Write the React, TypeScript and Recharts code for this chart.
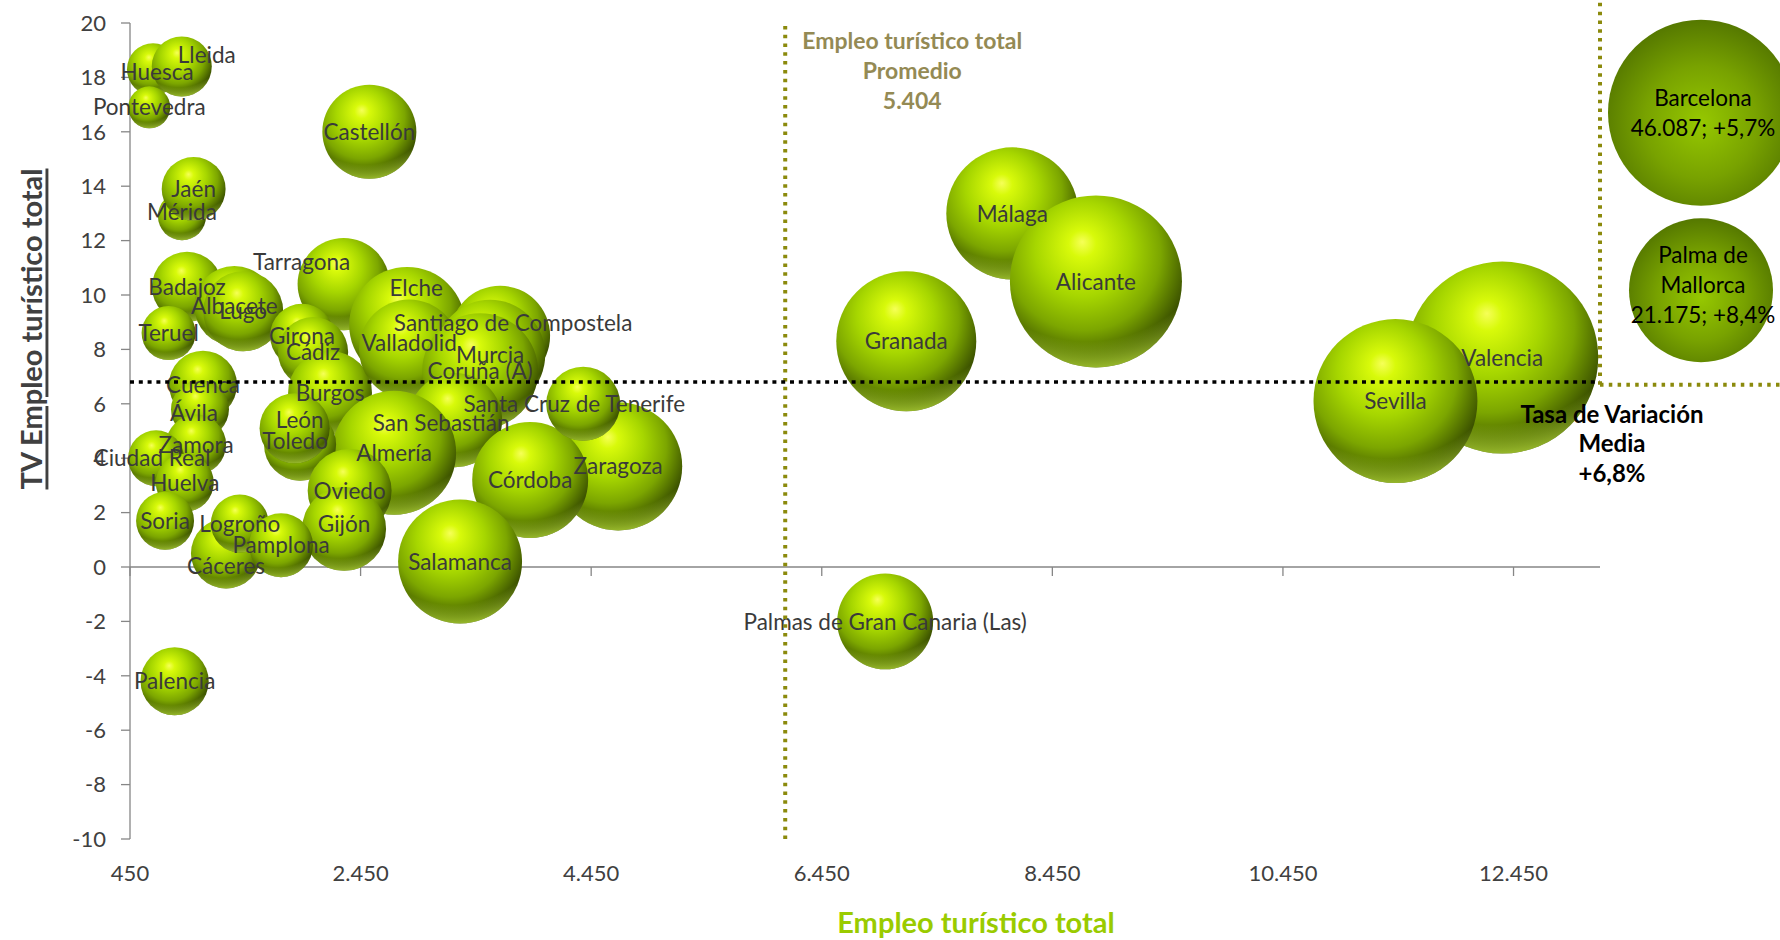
import { ScatterChart, Scatter, XAxis, YAxis, ZAxis, ReferenceLine, ReferenceDot, Label } from "recharts"

const FUENTE = "Lato, 'Open Sans', sans-serif"

// provincias dentro de escala (orden = orden de dibujo)
const ciudades = [
  "Huesca", "Lleida", "Pontevedra", "Castellón", "Mérida", "Jaén", "Badajoz", "Albacete", "Lugo", "Teruel",
  "Tarragona", "Elche", "Girona", "Cádiz", "Burgos", "Valladolid", "Santiago de Compostela", "Murcia", "Coruña (A)",
  "San Sebastián", "Almería", "Cuenca", "Ávila", "Zaragoza", "Córdoba", "Santa Cruz de Tenerife", "Toledo", "León",
  "Zamora", "Ciudad Real", "Huelva", "Oviedo", "Gijón", "Soria", "Cáceres", "Logroño", "Pamplona", "Salamanca",
  "Palencia", "Palmas de Gran Canaria (Las)", "Granada", "Málaga", "Alicante", "Valencia", "Sevilla",
]
const empleoTuristico = [
  650, 899, 617, 2526, 901, 1002, 945, 1355, 1432, 785,
  2303, 2854, 1942, 2038, 2185, 2871, 3660, 3574, 3487,
  3270, 2741, 1083, 1057, 4684, 3921, 4381, 1925, 1878,
  1023, 676, 925, 2355, 2307, 754, 1283, 1402, 1760, 3313,
  837, 7000, 7183, 8103, 8828, 12352, 11426,
]
const tasaVariacion = [
  18.3, 18.4, 16.9, 16.0, 12.9, 13.9, 10.3, 9.6, 9.4, 8.6,
  10.4, 8.9, 8.5, 7.9, 6.4, 8.0, 8.5, 7.8, 7.2,
  5.4, 4.2, 6.7, 5.8, 3.7, 3.2, 6.0, 4.5, 5.1,
  4.5, 4.0, 3.1, 2.8, 1.4, 1.7, 0.5, 1.6, 0.8, 0.2,
  -4.2, -2.0, 8.3, 13.0, 10.5, 7.7, 6.1,
]
const tamanoBurbuja = [
  6.8, 9.0, 4.4, 22.1, 5.8, 10.2, 12.3, 16.0, 16.0, 7.3,
  21.2, 33.6, 10.2, 12.3, 17.6, 25.0, 25.0, 30.3, 33.6,
  22.1, 38.4, 11.6, 8.4, 41.0, 33.6, 13.7, 13.0, 12.3,
  9.0, 7.8, 8.4, 17.6, 17.6, 8.4, 12.3, 8.4, 10.2, 38.4,
  11.6, 23.0, 49.0, 43.6, 74.0, 92.2, 67.2,
]

// provincias fuera de escala, dibujadas a la derecha
const fueraNombres = ["Barcelona", "Palma de Mallorca"]
const fueraEmpleo = [46087, 21175]
const fueraVariacion = [5.7, 8.4]

const xTicks = [450, 2450, 4450, 6450, 8450, 10450, 12450]
const yTicks = [-10, -8, -6, -4, -2, 0, 2, 4, 6, 8, 10, 12, 14, 16, 18, 20]

const empleoPromedio = 5404
const lineaPromedio = 6133 // donde la dibuja el gráfico original
const variacionMedia = 6.8

const datos = ciudades.map((name, i) => ({
  name,
  empleo: empleoTuristico[i],
  tv: tasaVariacion[i],
  tamano: tamanoBurbuja[i],
}))
const datosFuera = fueraNombres.map((name, i) => ({
  name,
  grupo: "fuera",
  empleo: fueraEmpleo[i],
  tv: fueraVariacion[i],
}))

// etiquetas que el original tiene desplazadas del centro
const desplazamiento: Record<string, [number, number]> = {
  Lleida: [25, -12],
  Tarragona: [-42, -22],
  Elche: [9, -37],
  "Santiago de Compostela": [13, -13],
  "San Sebastián": [-14, 3],
  Cáceres: [0, 12],
  "Santa Cruz de Tenerife": [-9, 0],
  Valladolid: [0, -7],
  León: [5, -8],
  Toledo: [-5, -4],
  Ávila: [-6, 4],
  "Ciudad Real": [-4, 0],
  Mérida: [0, -4],
  Huesca: [4, 3],
  Gijón: [0, -5],
}

const miles = (n: number) => String(n).replace(/\B(?=(\d{3})+(?!\d))/g, ".")
const pct = (v: number) => (v >= 0 ? "+" : "") + v.toFixed(1).replace(".", ",") + "%"

const OLIVA = "#8b8a0c"
const GRIS = "#868686"

function Bola(props: any) {
  const { cx, cy, width } = props
  const r = width / 2
  return (
    <g>
      <circle cx={cx} cy={cy} r={r} fill="url(#bolaVerde)" />
      <circle cx={cx} cy={cy} r={r} fill="url(#bolaBrillo)" />
    </g>
  )
}

function Etiqueta(props: any) {
  const { cx, cy, payload } = props
  const [dx, dy] = desplazamiento[payload.name] ?? [0, 0]
  return (
    <text x={cx + dx} y={cy + dy} dy="0.36em" textAnchor="middle" fontSize={22.5} fill="#3a3a3a" fontFamily={FUENTE}>
      {payload.name}
    </text>
  )
}

function MarcaEje(props: any) {
  return <line x1={props.cx} x2={props.cx} y1={props.cy} y2={props.cy + 9} stroke={GRIS} strokeWidth={1.3} />
}

function BolaFuera(props: any) {
  const { cx, cy, width, payload } = props
  const r = width / 2
  const partes = payload.name.length > 10 ? payload.name.split(/ (?=\S+$)/) : [payload.name]
  const lineas = [...partes, `${miles(payload.empleo)}; ${pct(payload.tv)}`]
  const y0 = cy - ((lineas.length - 1) * 30) / 2 - (lineas.length > 2 ? 5 : 0)
  return (
    <g>
      <circle cx={cx} cy={cy} r={r} fill="url(#bolaOscura)" />
      <text textAnchor="middle" fontSize={22.5} fill="#000" fontFamily={FUENTE}>
        {lineas.map((t, i) => (
          <tspan key={i} x={cx + 2} y={y0 + i * 30} dy="0.36em">
            {t}
          </tspan>
        ))}
      </text>
    </g>
  )
}

export default function App() {
  return (
    <div style={{ position: "relative", width: 1780, height: 940, overflow: "hidden", background: "#fff" }}>
      <style>{"body{margin:0}"}</style>
      <ScatterChart width={1780} height={940} margin={{ top: 23, right: 180, bottom: 41, left: 0 }}>
        <defs>
          <radialGradient id="bolaVerde" cx="0.43" cy="0.37" r="0.66" fx="0.42" fy="0.27">
            <stop offset="0" stopColor="#f6ff58" />
            <stop offset="0.12" stopColor="#d8fa0a" />
            <stop offset="0.42" stopColor="#a6d600" />
            <stop offset="0.68" stopColor="#7ca600" />
            <stop offset="0.86" stopColor="#4e6a00" />
            <stop offset="1" stopColor="#2a3a00" />
          </radialGradient>
          <radialGradient id="bolaBrillo" cx="0.45" cy="0.05" r="1">
            <stop offset="0.8" stopColor="#c8f040" stopOpacity="0" />
            <stop offset="0.97" stopColor="#c8f040" stopOpacity="0.75" />
          </radialGradient>
        </defs>
        <XAxis
          type="number"
          dataKey="empleo"
          domain={[450, 13200]}
          ticks={xTicks}
          interval={0}
          height={60}
          axisLine={false}
          tickLine={false}
          tickSize={8}
          tickMargin={18}
          tickFormatter={miles}
          tick={{ fontSize: 22, fill: "#404040", fontFamily: FUENTE }}
        >
          <Label
            content={(p: any) => {
              const vb = p.viewBox ?? { x: 130, y: 839 }
              return (
                <text x={vb.x + 846} y={vb.y + 94} textAnchor="middle" fontSize={29} fontWeight={700} fill="#9acb00" fontFamily={FUENTE}>
                  Empleo turístico total
                </text>
              )
            }}
          />
        </XAxis>
        <YAxis
          type="number"
          dataKey="tv"
          domain={[-10, 20]}
          ticks={yTicks}
          interval={0}
          width={130}
          tickSize={9}
          tickMargin={15}
          stroke={GRIS}
          axisLine={{ stroke: GRIS, strokeWidth: 1.3 }}
          tickLine={{ stroke: GRIS, strokeWidth: 1.3 }}
          tick={{ fontSize: 22, fill: "#404040", fontFamily: FUENTE }}
        >
          <Label
            content={(p: any) => {
              const vb = p.viewBox ?? { x: 0, y: 23 }
              return (
                <text
                  transform={`translate(${vb.x + 30}, ${vb.y + 306}) rotate(-90)`}
                  textAnchor="middle"
                  dominantBaseline="central"
                  fontSize={29}
                  fontWeight={700}
                  fill="#404040"
                  fontFamily={FUENTE}
                  style={{ textDecoration: "underline" }}
                >
                  TV Empleo turístico total
                </text>
              )
            }}
          />
        </YAxis>
        <ZAxis type="number" dataKey="tamano" domain={[0, 100]} range={[0, 31416]} />
        <ReferenceLine y={0} stroke={GRIS} strokeWidth={1.3} />
        {xTicks.map((t) => (
          <ReferenceDot key={t} x={t} y={0} r={0} shape={MarcaEje} />
        ))}
        <Scatter data={datos} shape={Bola} isAnimationActive={false} />
        <Scatter data={datos} shape={Etiqueta} isAnimationActive={false} />
        <ReferenceLine
          x={lineaPromedio}
          stroke={OLIVA}
          strokeWidth={4}
          strokeDasharray="3.5 5.3"
          zIndex={700}
          label={(p: any) => {
            const vb = p.viewBox ?? { x: 785, y: 23 }
            const cx = vb.x + 127
            return (
              <text textAnchor="middle" fontSize={23} fontWeight={700} fill="#948a54" fontFamily={FUENTE}>
                <tspan x={cx} y={vb.y + 26}>Empleo turístico total</tspan>
                <tspan x={cx} y={vb.y + 56}>Promedio</tspan>
                <tspan x={cx} y={vb.y + 86}>{miles(empleoPromedio)}</tspan>
              </text>
            )
          }}
        />
        <ReferenceLine
          y={variacionMedia}
          stroke="#000"
          strokeWidth={3.5}
          strokeDasharray="4 4.8"
          zIndex={700}
          label={(p: any) => {
            const vb = p.viewBox ?? { x: 130, y: 382, width: 1470 }
            const cx = vb.x + vb.width + 12
            return (
              <text textAnchor="middle" fontSize={24} fontWeight={700} fill="#000" fontFamily={FUENTE}>
                <tspan x={cx} y={vb.y + 41}>Tasa de Variación</tspan>
                <tspan x={cx} y={vb.y + 70}>Media</tspan>
                <tspan x={cx} y={vb.y + 100}>{pct(variacionMedia)}</tspan>
              </text>
            )
          }}
        />
        <ReferenceLine
          segment={[{ x: 13200, y: 6.7 }, { x: 13200, y: 23 }]}
          ifOverflow="visible"
          stroke={OLIVA}
          strokeWidth={4}
          strokeDasharray="3.5 5.3"
          zIndex={700}
        />
        <ReferenceLine
          segment={[{ x: 13200, y: 6.7 }, { x: 14800, y: 6.7 }]}
          ifOverflow="visible"
          stroke={OLIVA}
          strokeWidth={4}
          strokeDasharray="3.5 5.3"
          zIndex={700}
        />
      </ScatterChart>

      <div style={{ position: "absolute", left: 1600, top: 0 }}>
        <ScatterChart width={202} height={420} margin={{ top: 24, right: 0, bottom: 41, left: 0 }}>
          <defs>
            <radialGradient id="bolaOscura" cx="0.5" cy="0.55" r="0.55">
              <stop offset="0" stopColor="#96c800" />
              <stop offset="0.55" stopColor="#78a200" />
              <stop offset="1" stopColor="#557800" />
            </radialGradient>
          </defs>
          <XAxis type="category" dataKey="grupo" hide allowDuplicatedCategory={false} />
          <YAxis type="category" dataKey="name" hide reversed />
          <ZAxis type="number" dataKey="empleo" domain={[21175, 46087]} range={[16286, 27172]} />
          <Scatter data={datosFuera} shape={BolaFuera} isAnimationActive={false} />
        </ScatterChart>
      </div>
    </div>
  )
}
